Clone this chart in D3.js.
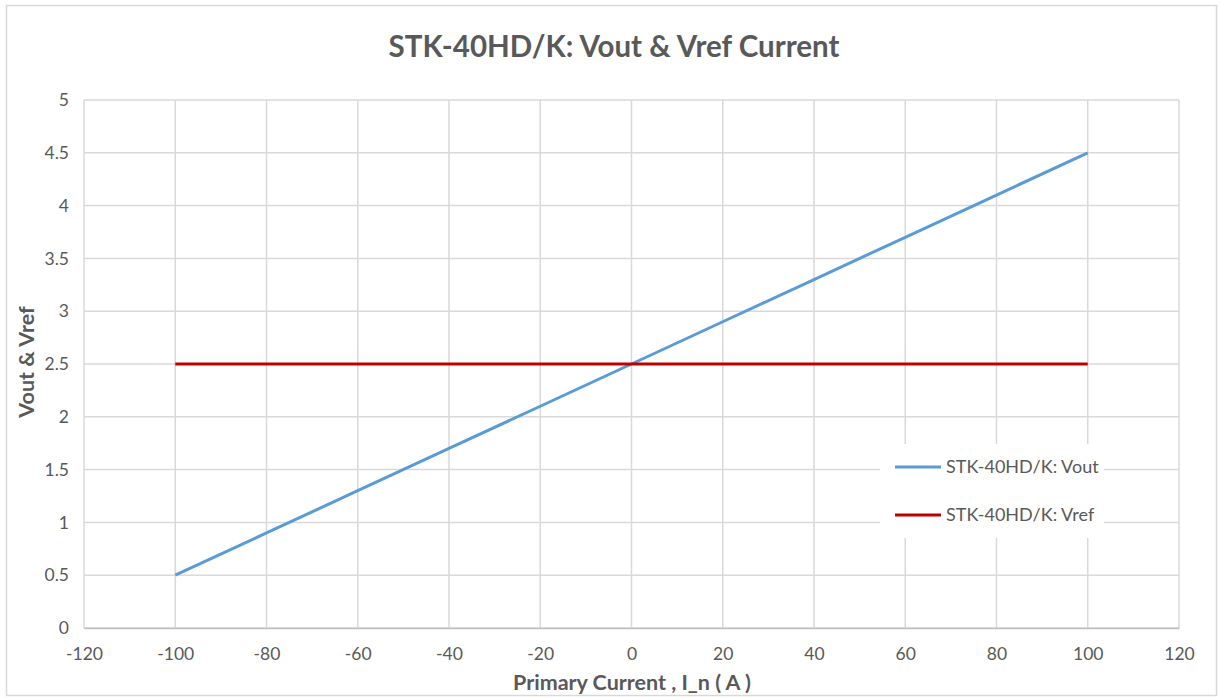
<!DOCTYPE html>
<html><head><meta charset="utf-8">
<script src="https://cdn.jsdelivr.net/npm/d3@7/dist/d3.min.js"></script>
<style>
html,body{margin:0;padding:0;background:#fff;}
text{font-family:"Lato","Open Sans",sans-serif;fill:#595959;}
</style></head>
<body><svg id="c" width="1220" height="698"></svg>
<script>
const currents = [-100,-80,-60,-40,-20,0,20,40,60,80,100];
const vout = [0.5,0.9,1.3,1.7,2.1,2.5,2.9,3.3,3.7,4.1,4.5];
const vref = [2.5,2.5,2.5,2.5,2.5,2.5,2.5,2.5,2.5,2.5,2.5];
const xTicks = [-120,-100,-80,-60,-40,-20,0,20,40,60,80,100,120];
const yTicks = [0,0.5,1,1.5,2,2.5,3,3.5,4,4.5,5];
const seriesNames = ["STK-40HD/K: Vout","STK-40HD/K: Vref"];
const seriesColors = ["#5b9bd5","#c00000"];
const titleText = "STK-40HD/K: Vout & Vref Current";
const xTitle = "Primary Current , I_n ( A )";
const yTitle = "Vout & Vref";

const svg = d3.select("#c");
const L=84,R=1179,T=100,B=628;
svg.append("rect").attr("x",6.5).attr("y",5.5).attr("width",1210).attr("height",690)
  .attr("fill","#fff").attr("stroke","#d9d9d9").attr("stroke-width",1.5);

const x = d3.scaleLinear().domain([-120,120]).range([L,R]);
const y = d3.scaleLinear().domain([0,5]).range([B,T]);

const g = svg.append("g");
g.selectAll(".vg").data(xTicks).join("line")
  .attr("x1",d=>x(d)).attr("x2",d=>x(d)).attr("y1",T).attr("y2",B)
  .attr("stroke","#d9d9d9").attr("stroke-width",1.5);
g.selectAll(".hg").data(yTicks).join("line")
  .attr("x1",L).attr("x2",R).attr("y1",d=>y(d)).attr("y2",d=>y(d))
  .attr("stroke","#d9d9d9").attr("stroke-width",1.5);

const xa = svg.append("g").attr("transform",`translate(0,${B})`)
  .call(d3.axisBottom(x).tickValues(xTicks).tickSize(0).tickPadding(20).tickFormat(d=>String(d)));
xa.select(".domain").attr("stroke","#bfbfbf").attr("stroke-width",1.5);
xa.selectAll("text").style("font-size","17.5px").attr("fill","#595959");
const ya = svg.append("g").attr("transform",`translate(${L},0)`)
  .call(d3.axisLeft(y).tickValues(yTicks).tickSize(0).tickPadding(15).tickFormat(d=>String(d)));
ya.select(".domain").remove();
ya.selectAll("text").style("font-size","17.5px").attr("fill","#595959");

const line = d3.line().x((d,i)=>x(currents[i])).y(d=>y(d));
[vout,vref].forEach((s,k)=>{
  svg.append("path").datum(s).attr("d",line).attr("fill","none")
    .attr("stroke",seriesColors[k]).attr("stroke-width",3);
});

const lg = svg.append("g");
lg.append("rect").attr("x",880).attr("y",444).attr("width",224).attr("height",94).attr("fill","#fff");
seriesNames.forEach((n,k)=>{
  const yy = 467 + k*48;
  lg.append("line").attr("x1",895).attr("x2",941).attr("y1",yy).attr("y2",yy)
    .attr("stroke",seriesColors[k]).attr("stroke-width",3);
  lg.append("text").attr("x",946).attr("y",yy).attr("dy","0.35em")
    .style("font-size","18px").text(n);
});

svg.append("text").attr("x",614).attr("y",47).attr("dy","0.35em").attr("text-anchor","middle")
  .style("font-size","29.5px").style("font-weight","bold").text(titleText);
svg.append("text").attr("x",632).attr("y",682).attr("dy","0.35em").attr("text-anchor","middle")
  .style("font-size","21.5px").style("font-weight","bold").text(xTitle);
svg.append("text").attr("transform","translate(26,362) rotate(-90)").attr("dy","0.35em").attr("text-anchor","middle")
  .style("font-size","21.5px").style("font-weight","bold").text(yTitle);
</script></body></html>
